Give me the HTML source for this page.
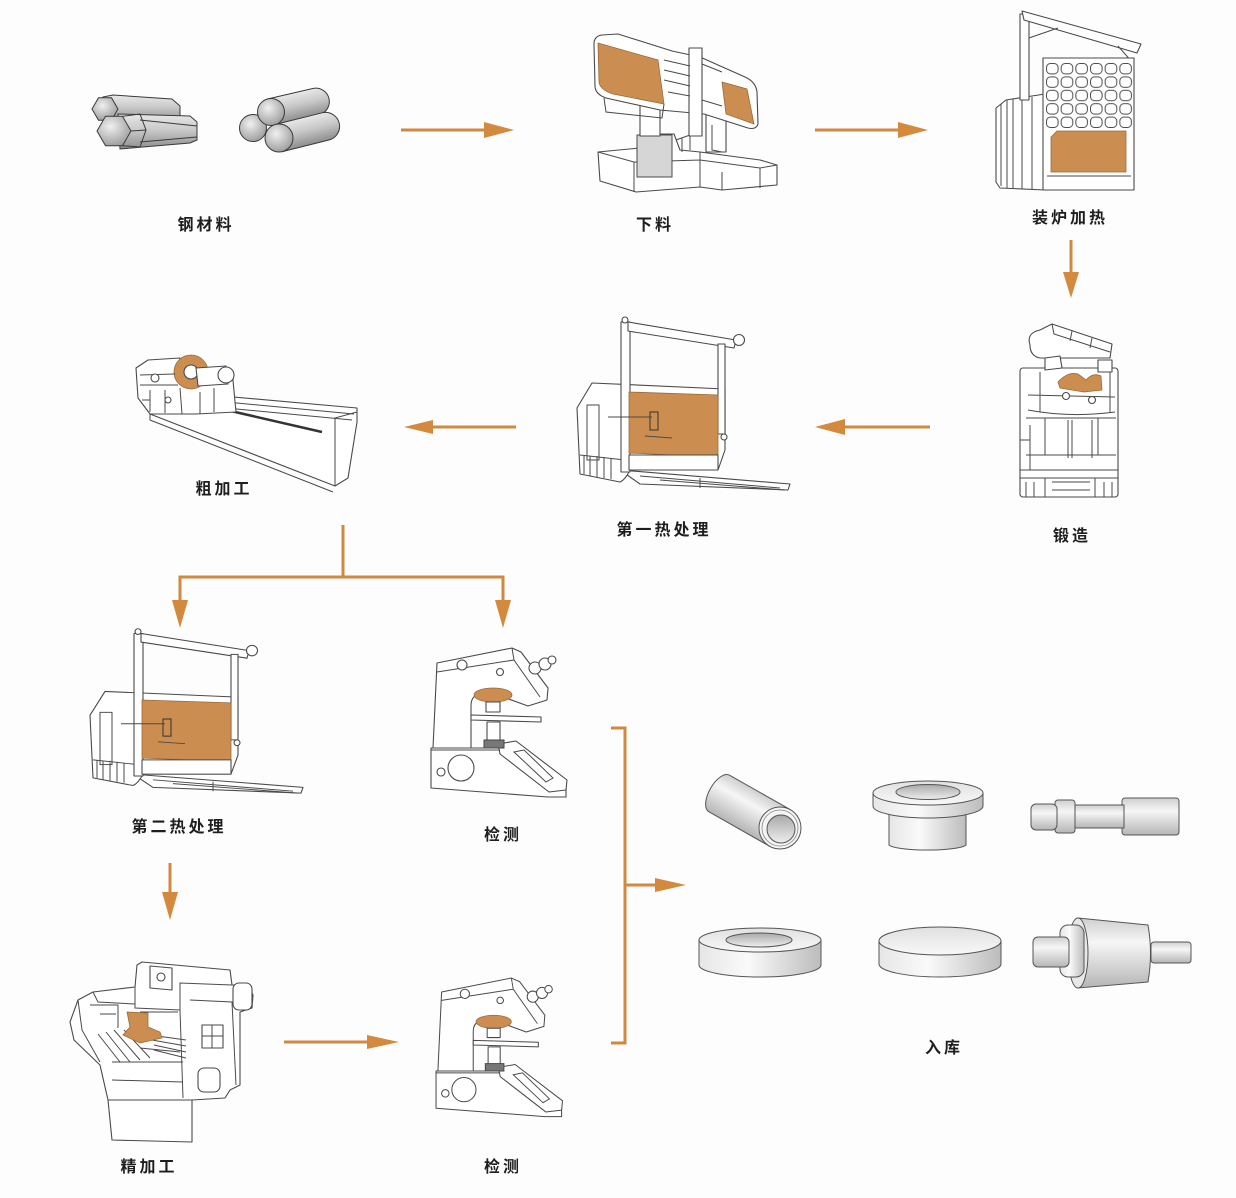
<!DOCTYPE html>
<html><head><meta charset="utf-8">
<style>
html,body{margin:0;padding:0;background:#fdfdfd;}
svg{display:block;}
.t{font-family:"Liberation Sans","Noto Sans CJK SC",sans-serif;font-weight:700;font-size:16px;fill:#1e1e1e;letter-spacing:3px;text-anchor:middle;}
.m{fill:#fff;stroke:#4a4a4a;stroke-width:1.1;stroke-linejoin:round;}
.l{fill:none;stroke:#4a4a4a;stroke-width:1;}
.o{fill:#cc8e50;stroke:#9a6a3a;stroke-width:.8;}
.a{fill:none;stroke:#d0893f;stroke-width:3;}
.h{fill:#d48a3e;}
.p{stroke:#555;stroke-width:1;}
</style></head><body>
<svg width="1236" height="1198" viewBox="0 0 1236 1198" xmlns="http://www.w3.org/2000/svg">
<defs>
<linearGradient id="rg" x1="0" y1="0" x2="0" y2="1"><stop offset="0" stop-color="#e8e8e8"/><stop offset=".45" stop-color="#c9c9c9"/><stop offset="1" stop-color="#8e8e8e"/></linearGradient>
<radialGradient id="fg" cx=".4" cy=".35" r=".7"><stop offset="0" stop-color="#f0f0f0"/><stop offset="1" stop-color="#9a9a9a"/></radialGradient>
<linearGradient id="pv" x1="0" y1="0" x2="0" y2="1"><stop offset="0" stop-color="#cfcfcf"/><stop offset=".35" stop-color="#f6f6f6"/><stop offset="1" stop-color="#b5b5b5"/></linearGradient>
<linearGradient id="ph" x1="0" y1="0" x2="1" y2="0"><stop offset="0" stop-color="#e6e6e6"/><stop offset=".4" stop-color="#fafafa"/><stop offset="1" stop-color="#bcbcbc"/></linearGradient>
<linearGradient id="ptop" x1="0" y1="0" x2="0" y2="1"><stop offset="0" stop-color="#e0e0e0"/><stop offset="1" stop-color="#f8f8f8"/></linearGradient>
<linearGradient id="phole" x1="0" y1="0" x2="0" y2="1"><stop offset="0" stop-color="#a9a9a9"/><stop offset="1" stop-color="#eeeeee"/></linearGradient>
<pattern id="cell" x="1045" y="62" width="14.67" height="13.4" patternUnits="userSpaceOnUse">
<rect x="1.5" y="1.5" width="11.6" height="10.4" rx="4" fill="#fff" stroke="#4a4a4a" stroke-width="1"/>
</pattern>
</defs>
<rect width="1236" height="1198" fill="#fdfdfd"/>

<!-- ===== Steel material rods ===== -->
<g stroke="#3a3a3a" stroke-width="1">
<polygon points="103,97 113,95 172,99 180,106 180,118 112,122" fill="url(#rg)"/>
<polygon points="118,109 111.5,120.3 98.5,120.3 92,109 98.5,97.7 111.5,97.7" fill="url(#fg)"/>
<polygon points="118,114 190,116 197,122 197,140 190,143 120,149" fill="url(#rg)"/>
<path d="M140,120 L197,126 M140,142 L197,137 M122.5,116.3 L140,114 L146,130 L140,147 L122.5,145.7 M131,131 L146,130" fill="none"/>
<polygon points="131,131 122.5,145.7 105.5,145.7 97,131 105.5,116.3 122.5,116.3" fill="url(#fg)"/>
<g transform="translate(271,112) rotate(-13)"><path d="M0,-13.5 H46 A13.5,13.5 0 0 1 46,13.5 H0 Z" fill="url(#rg)"/></g>
<g transform="translate(279,138) rotate(-14)"><path d="M0,-14 H48 A14,14 0 0 1 48,14 H0 Z" fill="url(#rg)"/></g>
<circle cx="253" cy="128" r="13.5" fill="url(#fg)"/>
<circle cx="271" cy="112" r="13.5" fill="url(#fg)"/>
<circle cx="279" cy="138" r="14" fill="url(#fg)"/>
</g>

<!-- ===== Band saw ===== -->
<g>
<path class="m" d="M598,152 L640,148 L640,134 L674,134 L680,150 L700,152 L760,160 L777,165 L777,185 L722,190 L700,187 L636,192 L600,181 Z"/>
<path class="l" d="M598,152 L634,162 L634,192 M634,162 L700,160 M700,152 L700,187 M700,160 L760,168 L777,165 M760,168 L760,188 M722,172 L722,190"/>
<rect x="637" y="135" width="35" height="42" fill="#d6d6d6" stroke="#4a4a4a"/>
<rect class="m" x="640" y="100" width="20" height="36"/>
<rect class="m" x="706" y="108" width="20" height="44"/>
<path class="l" d="M676,140 L690,135 L690,150 M682,138 L682,152 M712,125 L712,150 L722,152"/>
<path class="m" d="M594,44 Q594,36 602,35 L618,34 L672,51 L700,57 L745,77 Q756,82 757,92 L758,124 Q756,130 748,128 L704,114 L660,110 L606,98 Q595,94 595,86 Z"/>
<path class="o" d="M598,43 L658,60 L664,104 L613,94 Q600,90 599,82 Z"/>
<path class="o" d="M722,82 L747,89 L754,124 L726,114 Z"/>
<rect class="m" x="689" y="48" width="13" height="88"/>
<path class="l" d="M664,60 L690,66 M664,70 L690,76 M664,80 L690,86 M668,92 L690,96 M702,64 L722,72 M702,100 L722,106 M604,98 L606,112 L662,118 L664,104"/>
</g>

<!-- ===== Loading furnace ===== -->
<g>
<path class="m" d="M996,108 L1006,100 L1045,94 L1045,190 L1000,188 L996,182 Z"/>
<path class="l" d="M1001,104 L1001,186 M1007,100 L1007,188 M1013,99 L1013,188 M1022,98 L1022,189 M1032,97 L1032,189"/>
<rect class="m" x="1020" y="14" width="9" height="86"/>
<polygon class="m" points="1022,11 1141,44 1137,53 1024,20"/>
<path class="l" d="M1029,38 L1058,28 M1118,46 L1132,62"/>
<rect class="m" x="1043" y="58" width="91" height="132"/>
<rect x="1045" y="62" width="88" height="68" fill="url(#cell)"/>
<path class="o" d="M1057,131 L1126,131 L1126,172 L1051,172 L1051,137 Z"/>
<path class="l" d="M1047,176 L1131,176"/>
</g>

<!-- ===== Forging press ===== -->
<g>
<path class="m" d="M1030,345 Q1026,333 1040,330 L1052,324 L1112,344 L1110,358 L1040,358 Q1030,356 1030,345 Z"/>
<path class="l" d="M1052,324 L1054,334 L1110,352 M1072,331 L1070,341 M1092,338 L1090,348"/>
<rect class="m" x="1020" y="368" width="98" height="129" rx="3"/>
<path class="m" d="M1045,358 L1060,356 L1062,368 L1045,370 Z"/>
<path class="m" d="M1098,360 L1112,360 L1112,372 L1098,372 Z"/>
<path class="o" d="M1058,382 Q1068,371 1078,374 L1086,380 Q1093,372 1101,376 L1102,390 L1084,392 L1060,388 Z"/>
<path class="l" d="M1028,395 L1115,397 M1028,410 Q1070,418 1115,412 M1040,372 L1040,412 M1110,372 L1110,412"/>
<circle class="m" cx="1066" cy="396" r="3.5"/><circle class="m" cx="1092" cy="400" r="3.5"/>
<path class="l" d="M1026,418 L1116,418 M1026,455 L1116,455 M1045,418 L1045,455 M1068,420 L1068,458 M1072,420 L1072,458 M1092,420 L1092,458 M1098,418 L1098,455 M1020,440 L1030,440 M1030,425 L1030,470"/>
<path class="l" d="M1020,470 L1118,470 M1020,478 L1118,478 M1045,478 L1045,497 M1095,478 L1095,497 M1052,482 L1090,482 M1052,490 L1090,490 M1026,482 L1026,497 M1034,482 L1034,497 M1104,482 L1104,497 M1112,482 L1112,497"/>
</g>

<!-- ===== Heat treatment furnace 1 ===== -->
<g id="hf">
<path class="m" d="M620,470 L790,484 L788,490 L640,484 Z"/>
<path class="l" d="M640,476 L780,488 M660,480 L785,490 M700,478 L700,488"/>
<path class="m" d="M577,408 L592,383 L725,389 L725,450 L718,470 L630,470 Q625,480 620,482 L580,474 Z"/>
<rect class="l" x="587" y="405" width="12" height="55"/>
<path class="l" d="M584,455 L584,474 M590,456 L590,476 M597,456 L597,477 M604,457 L604,478 M611,458 L611,479 M580,455 L625,460"/>
<rect class="m" x="621" y="322" width="9" height="150"/>
<circle class="m" cx="625" cy="320" r="3"/>
<path class="m" d="M628,322 L736,340 L734,348 L628,331 Z"/>
<circle class="m" cx="739" cy="340" r="5.5"/>
<rect class="m" x="718" y="344" width="7" height="90"/>
<circle class="m" cx="724" cy="437" r="3"/>
<path class="o" d="M629,392 L718,395 L718,457 L629,453 Z"/>
<rect class="m" x="629" y="455" width="89" height="15"/>
<path d="M650,412 h8 v18 h-8 z" fill="none" stroke="#333" stroke-width="1"/>
<path class="l" d="M608,417 L652,417 M645,436 L672,438"/>
</g>

<!-- ===== Heat treatment furnace 2 ===== -->
<use href="#hf" transform="matrix(1,0,0,0.95,-487,327.6)"/>

<!-- ===== Lathe ===== -->
<g>
<path class="m" d="M200,394 L357,408 L357,422 L348,478 L335,486 L150,414 L146,404 Z"/>
<path class="l" d="M205,400 L354,414 M205,406 L352,420 M150,414 L150,420 L333,492 M335,486 L335,418 L357,412"/>
<line x1="209" y1="406" x2="322" y2="432" stroke="#333" stroke-width="2.5"/>
<path class="m" d="M136,368 L148,360 L180,358 L180,372 L232,370 L236,412 L196,414 L150,414 L138,398 Z"/>
<circle class="o" cx="191" cy="372" r="17"/>
<circle class="m" cx="191" cy="372" r="7"/>
<path class="m" d="M196,368 L226,366 L228,384 L198,386 Z"/>
<circle class="m" cx="226" cy="375" r="8"/>
<path class="l" d="M140,375 L175,374 M140,385 L178,385 M150,390 L150,412 M165,390 L165,413 M180,388 L182,414 M200,392 L200,414 M214,388 L214,412 M142,400 L150,400"/>
<circle class="m" cx="155" cy="378" r="4"/><circle class="m" cx="168" cy="400" r="3"/>
</g>

<!-- ===== Microscope (top) ===== -->
<g id="mic">
<path class="m" d="M431,748 L500,748 L566,784 L566,797 L548,797 L431,788 Z"/>
<path class="m" d="M498,744 L516,741 L567,780 L566,790 L549,792 L500,754 Z"/>
<path class="l" d="M514,752 L524,750 L553,778 L546,782 Z M431,750 L500,750"/>
<circle class="m" cx="461" cy="768" r="13"/>
<circle class="m" cx="441" cy="772" r="4"/>
<path class="m" d="M437,663 L512,648 L521,652 L548,688 L547,700 L528,706 L506,698 L482,694 Q471,694 471,706 L471,748 L433,748 Z"/>
<path class="l" d="M512,648 L514,660 L540,697 M514,660 L437,672"/>
<circle class="m" cx="462" cy="665" r="5"/><circle class="m" cx="500" cy="672" r="3.5"/>
<circle class="m" cx="535" cy="668" r="6"/><circle class="m" cx="545" cy="664" r="6"/><circle class="m" cx="552" cy="660" r="4"/>
<ellipse class="o" cx="493" cy="695" rx="19" ry="7"/>
<rect class="m" x="486" y="702" width="14" height="10"/>
<path class="m" d="M471,715 L541,717 L541,722 L471,720 Z"/>
<rect class="m" x="487" y="722" width="13" height="20"/>
<rect x="484" y="740" width="20" height="8" fill="#777" stroke="#444"/>
</g>
<use href="#mic" transform="matrix(0.93,0,0,0.93,35.2,375.4)"/>

<!-- ===== Finishing machine ===== -->
<g>
<path class="m" d="M70,1022 L78,1000 L93,992 L135,987 L137,965 L142,962 L230,970 L232,985 L248,985 L253,995 L252,1008 L240,1012 L240,1085 L230,1090 L225,1098 L192,1100 L192,1142 L112,1140 L108,1100 L100,1065 L74,1040 Z"/>
<path class="l" d="M93,992 L98,1002 L135,1004 M135,987 L135,1008 L180,1010 L180,983 L232,985 M78,1000 L82,1030 L100,1062 M90,1005 L118,1005 L118,1028 M100,1014 L116,1014 M180,1010 L183,1098 M190,1000 L232,1002 L236,1085 M112,1062 L183,1062 M112,1080 L183,1082 M108,1100 L192,1100 M140,1012 L178,1012"/>
<path class="l" d="M98,1034 L120,1062 M106,1032 L130,1062 M114,1030 L140,1060 M124,1030 L150,1058 M150,1035 L186,1040 M152,1040 L186,1046 M154,1045 L186,1052 M154,1050 L186,1058 M140,1048 L180,1052"/>
<path class="o" d="M127,1012 L148,1013 L148,1027 L160,1032 L162,1038 L140,1043 L123,1035 L130,1027 Z"/>
<rect class="m" x="233" y="983" width="19" height="27" rx="6"/>
<rect class="m" x="198" y="1068" width="22" height="24" rx="6"/>
<rect class="m" x="202" y="1025" width="21" height="23"/>
<path class="l" d="M202,1036 L223,1036 M212,1025 L212,1048"/>
<path class="m" d="M150,966 L172,968 L172,990 L150,988 Z"/>
<circle class="m" cx="161" cy="977" r="4"/>
</g>

<!-- ===== Products ===== -->
<g class="p">
<g transform="translate(780,828) rotate(29.6)"><path d="M0,-21 L-70,-21 A10,21 0 0 0 -70,21 L0,21 Z" fill="url(#pv)"/></g>
<circle cx="780" cy="828" r="21" fill="#f4f4f4"/>
<circle cx="780" cy="828" r="18" fill="none" stroke="#888" stroke-width=".8"/>
<circle cx="781" cy="829" r="14" fill="url(#phole)"/>

<path d="M889,812 L889,845 A39,6 0 0 0 966,845 L966,812 Z" fill="url(#ph)"/>
<path d="M873,793 L873,806 A55,12 0 0 0 983,806 L983,793 Z" fill="url(#ph)"/>
<ellipse cx="928" cy="793" rx="55" ry="12" fill="url(#ptop)"/>
<ellipse cx="928" cy="792" rx="32" ry="7.5" fill="url(#phole)"/>

<rect x="1122" y="798" width="57" height="37" rx="3" fill="url(#pv)"/>
<rect x="1074" y="805" width="50" height="23" fill="url(#pv)"/>
<rect x="1055" y="800" width="20" height="33" rx="3" fill="url(#pv)"/>
<rect x="1031" y="804" width="26" height="26" rx="5" fill="url(#pv)"/>

<path d="M699,940 L699,965 A61,12 0 0 0 821,965 L821,940 Z" fill="url(#ph)"/>
<ellipse cx="760" cy="940" rx="61" ry="12" fill="url(#ptop)"/>
<ellipse cx="759" cy="940" rx="33" ry="7" fill="url(#phole)"/>

<path d="M879,941 L879,964 A61,13 0 0 0 1001,964 L1001,941 Z" fill="url(#ph)"/>
<ellipse cx="940" cy="941" rx="61" ry="14" fill="url(#ptop)"/>

<rect x="1151" y="942" width="40" height="21" rx="3" fill="url(#pv)"/>
<path d="M1078,918 L1148,925 Q1153,953 1148,982 L1078,988 Z" fill="url(#pv)"/>
<ellipse cx="1078" cy="953" rx="10" ry="35" fill="#e8e8e8"/>
<rect x="1060" y="925" width="24" height="52" rx="8" fill="url(#ph)"/>
<rect x="1033" y="937" width="36" height="30" rx="5" fill="url(#pv)"/>
</g>

<!-- ===== Arrows ===== -->
<path class="a" d="M401,130 H486"/><polygon class="h" points="484,122 514,130 484,138"/>
<path class="a" d="M815,130 H900"/><polygon class="h" points="898,122 928,130 898,138"/>
<path class="a" d="M1071,240 V274"/><polygon class="h" points="1063,272 1071,298 1079,272"/>
<path class="a" d="M930,427 H843"/><polygon class="h" points="845,419 815,427 845,435"/>
<path class="a" d="M516,427 H430"/><polygon class="h" points="433,420 404,427 433,434"/>
<path class="a" d="M343,525 V577 M180,602 V577 H503 V602"/>
<polygon class="h" points="172,600 180,628 188,600"/><polygon class="h" points="495,600 503,628 511,600"/>
<path class="a" d="M170,863 V893"/><polygon class="h" points="162,892 170,920 178,892"/>
<path class="a" d="M284,1042 H370"/><polygon class="h" points="367,1035 399,1042 367,1049"/>
<path class="a" d="M611,728 H625 V1043 H611 M625,885 H658"/><polygon class="h" points="655,878 686,885 655,892"/>

<!-- ===== Labels ===== -->
<text class="t" x="206" y="230">钢材料</text>
<text class="t" x="655" y="230">下料</text>
<text class="t" x="1070" y="223">装炉加热</text>
<text class="t" x="1072" y="541">锻造</text>
<text class="t" x="664" y="535">第一热处理</text>
<text class="t" x="224" y="494">粗加工</text>
<text class="t" x="179" y="832">第二热处理</text>
<text class="t" x="503" y="840">检测</text>
<text class="t" x="149" y="1172">精加工</text>
<text class="t" x="503" y="1172">检测</text>
<text class="t" x="944" y="1053">入库</text>
</svg>
</body></html>
